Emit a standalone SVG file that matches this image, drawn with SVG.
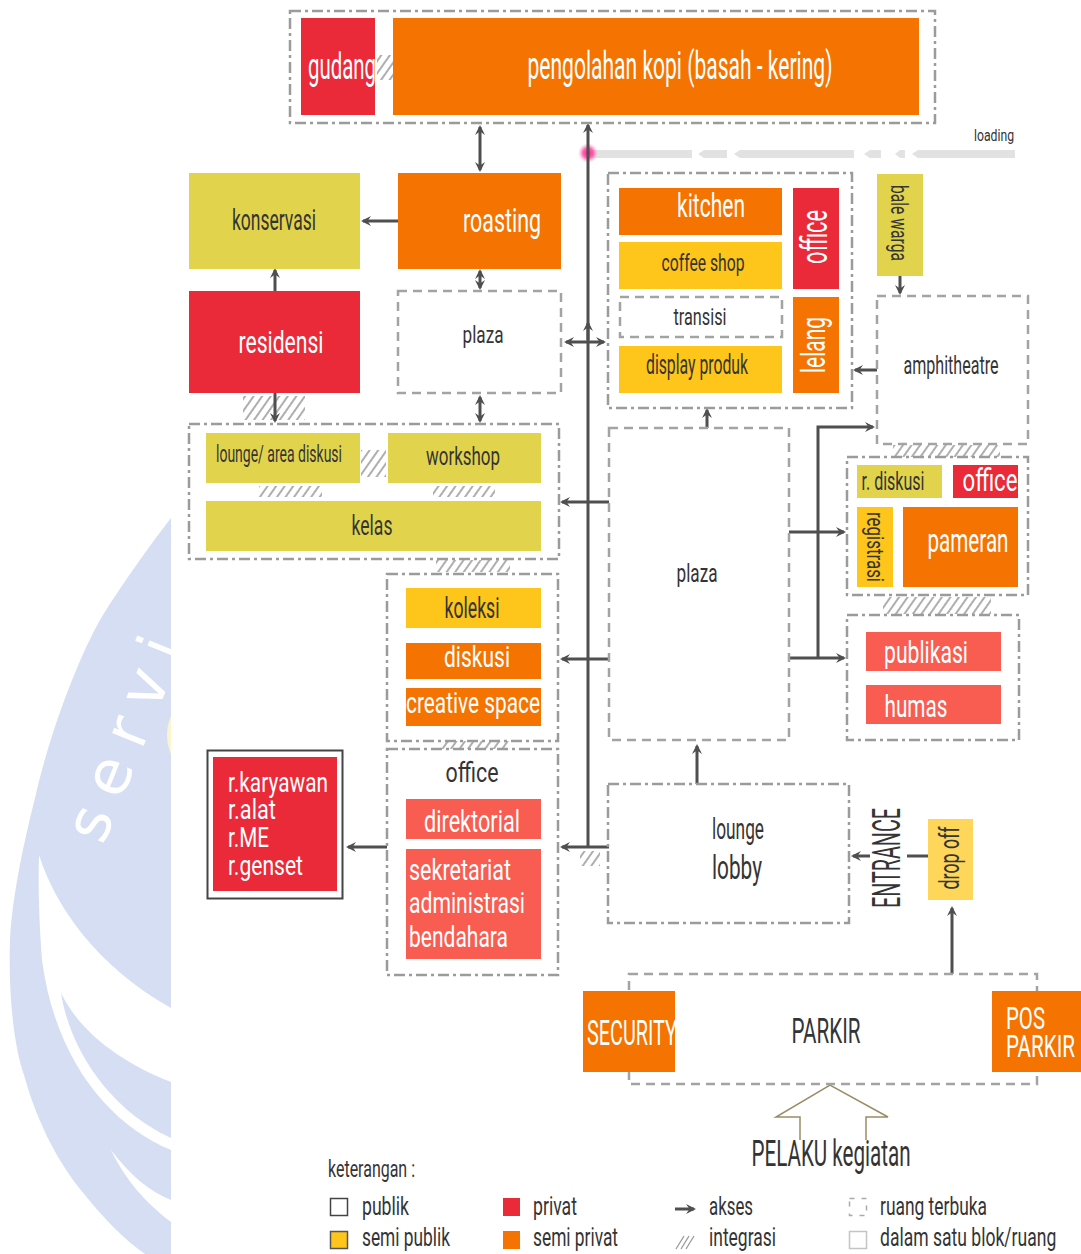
<svg xmlns="http://www.w3.org/2000/svg" width="1081" height="1254" viewBox="0 0 1081 1254">
<style>
.t{font-family:Roboto,"Liberation Sans",sans-serif;font-weight:400}
.m{text-anchor:middle}
.w{fill:#ffffff}
.d{fill:#343434}
.dd{fill:none;stroke:#9b9b9b;stroke-width:2.5;stroke-dasharray:11 4 3 4}
.ds{fill:none;stroke:#a3a3a3;stroke-width:2.5;stroke-dasharray:9 6}
.c{fill:none;stroke:#4f4f4f;stroke-width:3}
.red{fill:#ea2a39}.org{fill:#f57300}.oli{fill:#e1d44c}.yel{fill:#fec51b}.sal{fill:#f95c50}
.ht{fill:url(#hatch)}
</style>
<defs>
<marker id="ah" viewBox="0 0 10 10" refX="8" refY="5" markerWidth="10" markerHeight="10" markerUnits="userSpaceOnUse" orient="auto-start-reverse"><path d="M0,0 L10,5 L0,10 L3.5,5 Z" fill="#4f4f4f"/></marker>
<pattern id="hatch" width="7" height="7" patternUnits="userSpaceOnUse" patternTransform="rotate(35)"><line x1="1" y1="0" x2="1" y2="7" stroke="#8c8c8c" stroke-width="1.4"/></pattern>
<radialGradient id="glow"><stop offset="0" stop-color="#ff1a8c"/><stop offset="0.5" stop-color="#ff3b9a" stop-opacity="0.8"/><stop offset="1" stop-color="#ff8cc4" stop-opacity="0"/></radialGradient>
<clipPath id="wm"><rect x="0" y="0" width="171" height="1254"/></clipPath>
</defs>
<rect x="0" y="0" width="1081" height="1254" fill="#ffffff"/>

<g id="watermark" clip-path="url(#wm)">
<path d="M171,518 C150,545 118,590 100,620 C80,655 50,730 34,802 C22,850 12,900 10,940 C8,1000 15,1050 24,1075 C35,1115 55,1160 85,1195 C105,1220 125,1240 145,1254 L171,1254 Z" fill="#d5def2"/>
<path d="M39,855 C55,905 95,965 171,1008 L171,1082 C120,1062 80,1032 61,993 C70,1050 110,1110 171,1138 L171,1150 C110,1125 55,1060 42,960 C39,920 38,885 39,855 Z" fill="#ffffff"/>
<path d="M111,1150 C130,1175 150,1192 171,1200 L171,1222 C148,1205 125,1180 111,1150 Z" fill="#ffffff"/>
<ellipse cx="200" cy="735" rx="33" ry="40" fill="#fbf5cf"/>
<text class="w" transform="translate(103,846) rotate(-68)" font-family="'DejaVu Sans',sans-serif" font-size="62" letter-spacing="16">servi</text>
</g>

<g id="loading-road">
<rect x="592" y="150" width="100" height="8" fill="#e2e2e2"/>
<polygon points="698,154 704,150 727,150 727,158 704,158" fill="#e2e2e2"/>
<polygon points="734,154 740,150 854,150 854,158 740,158" fill="#e2e2e2"/>
<polygon points="864,154 870,150 881,150 881,158 870,158" fill="#e2e2e2"/>
<polygon points="895,154 900,150 905,150 905,158 900,158" fill="#e2e2e2"/>
<polygon points="912,154 918,150 1015,150 1015,158 918,158" fill="#e2e2e2"/>
<circle cx="588" cy="153" r="10" fill="url(#glow)"/>
<text class="t d" x="974" y="141" font-size="16" textLength="40" lengthAdjust="spacingAndGlyphs">loading</text>
</g>

<g id="hatches">
<rect class="ht" x="377" y="55" width="16" height="25"/>
<rect class="ht" x="243" y="396" width="62" height="24"/>
<rect class="ht" x="361" y="450" width="25" height="27"/>
<rect class="ht" x="259" y="486" width="63" height="11"/>
<rect class="ht" x="433" y="486" width="62" height="11"/>
<rect class="ht" x="436" y="560" width="74" height="12"/>
<rect class="ht" x="440" y="741" width="70" height="8"/>
<rect class="ht" x="580" y="851" width="20" height="15"/>
<rect class="ht" x="893" y="445" width="107" height="12"/>
<rect class="ht" x="883" y="597" width="108" height="17"/>
</g>

<g id="connectors">
<line class="c" x1="480" y1="127" x2="480" y2="170" marker-start="url(#ah)" marker-end="url(#ah)"/>
<line class="c" x1="588" y1="848" x2="588" y2="125" marker-end="url(#ah)"/>
<line class="c" x1="588" y1="340" x2="588" y2="323" marker-end="url(#ah)"/>
<line class="c" x1="398" y1="221" x2="363" y2="221" marker-end="url(#ah)"/>
<line class="c" x1="275" y1="291" x2="275" y2="270" marker-end="url(#ah)"/>
<line class="c" x1="480" y1="271" x2="480" y2="288" marker-start="url(#ah)" marker-end="url(#ah)"/>
<line class="c" x1="480" y1="397" x2="480" y2="421" marker-start="url(#ah)" marker-end="url(#ah)"/>
<line class="c" x1="275" y1="393" x2="275" y2="421" marker-end="url(#ah)"/>
<line class="c" x1="566" y1="342" x2="604" y2="342" marker-start="url(#ah)" marker-end="url(#ah)"/>
<line class="c" x1="609" y1="502" x2="562" y2="502" marker-end="url(#ah)"/>
<line class="c" x1="609" y1="659" x2="562" y2="659" marker-end="url(#ah)"/>
<line class="c" x1="609" y1="847" x2="562" y2="847" marker-end="url(#ah)"/>
<line class="c" x1="387" y1="847" x2="348" y2="847" marker-end="url(#ah)"/>
<line class="c" x1="707" y1="428" x2="707" y2="410" marker-end="url(#ah)"/>
<line class="c" x1="900" y1="276" x2="900" y2="293" marker-end="url(#ah)"/>
<line class="c" x1="877" y1="370" x2="855" y2="370" marker-end="url(#ah)"/>
<line class="c" x1="789" y1="532" x2="844" y2="532" marker-end="url(#ah)"/>
<line class="c" x1="789" y1="658" x2="844" y2="658" marker-end="url(#ah)"/>
<polyline class="c" points="818,658 818,427 873,427" marker-end="url(#ah)"/>
<line class="c" x1="697" y1="784" x2="697" y2="746" marker-end="url(#ah)"/>
<line class="c" x1="928" y1="856" x2="907" y2="856"/>
<line class="c" x1="870" y1="856" x2="853" y2="856" marker-end="url(#ah)"/>
<line class="c" x1="952" y1="974" x2="952" y2="908" marker-end="url(#ah)"/>
<polyline points="800,1140 800,1117 776,1117 830,1085 888,1117 866,1117 866,1140" fill="none" stroke="#9a8c66" stroke-width="1.5"/>
</g>

<g id="top-block"><rect class="dd" x="290" y="11" width="645" height="112"/></g>
<g id="gudang"><rect class="red" x="301" y="18" width="74" height="97"/><text class="t w m" x="342" y="79" font-size="36" textLength="68" lengthAdjust="spacingAndGlyphs">gudang</text></g>
<g id="pengolahan"><rect class="org" x="393" y="18" width="526" height="97"/><text class="t w m" x="680" y="79" font-size="38" textLength="305" lengthAdjust="spacingAndGlyphs">pengolahan kopi (basah - kering)</text></g>

<g id="konservasi"><rect class="oli" x="189" y="173" width="171" height="96"/><text class="t d m" x="274" y="230" font-size="30" textLength="84" lengthAdjust="spacingAndGlyphs">konservasi</text></g>
<g id="roasting"><rect class="org" x="398" y="173" width="163" height="96"/><text class="t w m" x="502" y="232" font-size="34" textLength="78" lengthAdjust="spacingAndGlyphs">roasting</text></g>
<g id="residensi"><rect class="red" x="189" y="291" width="171" height="102"/><text class="t w m" x="281" y="353" font-size="32" textLength="85" lengthAdjust="spacingAndGlyphs">residensi</text></g>
<g id="plaza-small"><rect class="ds" x="398" y="291" width="163" height="102"/><text class="t d m" x="483" y="343" font-size="24" textLength="41" lengthAdjust="spacingAndGlyphs">plaza</text></g>

<g id="lounge-group">
<rect class="dd" x="189" y="424" width="370" height="135"/>
<rect class="oli" x="206" y="433" width="154" height="50"/><text class="t d m" x="279" y="462" font-size="23" textLength="126" lengthAdjust="spacingAndGlyphs">lounge/ area diskusi</text>
<rect class="oli" x="388" y="433" width="153" height="50"/><text class="t d m" x="463" y="465" font-size="26" textLength="74" lengthAdjust="spacingAndGlyphs">workshop</text>
<rect class="oli" x="206" y="501" width="335" height="50"/><text class="t d m" x="372" y="535" font-size="28" textLength="41" lengthAdjust="spacingAndGlyphs">kelas</text>
</g>

<g id="koleksi-group">
<rect class="dd" x="387" y="574" width="171" height="167"/>
<rect class="yel" x="406" y="588" width="135" height="40"/><text class="t d m" x="472" y="618" font-size="30" textLength="55" lengthAdjust="spacingAndGlyphs">koleksi</text>
<rect class="org" x="406" y="643" width="135" height="36"/><text class="t w m" x="477" y="667" font-size="30" textLength="66" lengthAdjust="spacingAndGlyphs">diskusi</text>
<rect class="org" x="406" y="688" width="135" height="38"/><text class="t w m" x="473" y="713" font-size="30" textLength="134" lengthAdjust="spacingAndGlyphs">creative space</text>
</g>

<g id="office-group">
<rect class="dd" x="387" y="749" width="171" height="226"/>
<text class="t d m" x="472" y="782" font-size="28" textLength="53" lengthAdjust="spacingAndGlyphs">office</text>
<rect class="sal" x="406" y="799" width="135" height="40"/><text class="t w m" x="472" y="832" font-size="32" textLength="96" lengthAdjust="spacingAndGlyphs">direktorial</text>
<rect class="sal" x="406" y="849" width="135" height="110"/>
<text class="t w" x="409" y="880" font-size="30" textLength="102" lengthAdjust="spacingAndGlyphs">sekretariat</text>
<text class="t w" x="409" y="913" font-size="30" textLength="116" lengthAdjust="spacingAndGlyphs">administrasi</text>
<text class="t w" x="409" y="947" font-size="30" textLength="99" lengthAdjust="spacingAndGlyphs">bendahara</text>
</g>

<g id="service-rooms">
<rect x="207.5" y="750.5" width="135" height="148" fill="#ffffff" stroke="#444" stroke-width="2"/>
<rect class="red" x="213" y="757" width="124" height="134"/>
<text class="t w" x="228" y="792" font-size="27" textLength="100" lengthAdjust="spacingAndGlyphs">r.karyawan</text>
<text class="t w" x="228" y="819" font-size="27" textLength="48" lengthAdjust="spacingAndGlyphs">r.alat</text>
<text class="t w" x="228" y="847" font-size="27" textLength="41" lengthAdjust="spacingAndGlyphs">r.ME</text>
<text class="t w" x="228" y="875" font-size="27" textLength="75" lengthAdjust="spacingAndGlyphs">r.genset</text>
</g>

<g id="kitchen-group">
<rect class="dd" x="608" y="173" width="244" height="235"/>
<rect class="org" x="619" y="188" width="163" height="47"/><text class="t w m" x="711" y="217" font-size="34" textLength="68" lengthAdjust="spacingAndGlyphs">kitchen</text>
<rect class="yel" x="619" y="242" width="163" height="47"/><text class="t d m" x="703" y="271" font-size="23" textLength="83" lengthAdjust="spacingAndGlyphs">coffee shop</text>
<rect class="ds" x="620" y="297" width="162" height="40"/><text class="t d m" x="700" y="325" font-size="24" textLength="53" lengthAdjust="spacingAndGlyphs">transisi</text>
<rect class="yel" x="619" y="346" width="163" height="47"/><text class="t d m" x="697" y="374" font-size="27" textLength="102" lengthAdjust="spacingAndGlyphs">display produk</text>
<rect class="red" x="793" y="188" width="46" height="101"/><text class="t w m" transform="translate(816,237) rotate(-90)" x="0" y="11" font-size="36" textLength="54" lengthAdjust="spacingAndGlyphs">office</text>
<rect class="org" x="793" y="297" width="46" height="96"/><text class="t w m" transform="translate(816,345) rotate(-90)" x="0" y="9" font-size="33" textLength="56" lengthAdjust="spacingAndGlyphs">lelang</text>
</g>

<g id="bale-warga"><rect class="oli" x="877" y="174" width="46" height="102"/><text class="t d m" transform="translate(899,223) rotate(90)" x="0" y="8" font-size="24" textLength="76" lengthAdjust="spacingAndGlyphs">bale warga</text></g>
<g id="amphitheatre"><rect class="ds" x="877" y="296" width="151" height="148"/><text class="t d m" x="951" y="374" font-size="25" textLength="95" lengthAdjust="spacingAndGlyphs">amphitheatre</text></g>

<g id="plaza-big"><rect class="ds" x="609" y="428" width="180" height="312"/><text class="t d m" x="697" y="582" font-size="25" textLength="41" lengthAdjust="spacingAndGlyphs">plaza</text></g>

<g id="pameran-group">
<rect class="dd" x="847" y="457" width="181" height="138"/>
<rect class="oli" x="857" y="465" width="85" height="33"/><text class="t d m" x="893" y="490" font-size="25" textLength="63" lengthAdjust="spacingAndGlyphs">r. diskusi</text>
<rect class="red" x="953" y="465" width="65" height="33"/><text class="t w m" x="990" y="491" font-size="31" textLength="55" lengthAdjust="spacingAndGlyphs">office</text>
<rect class="yel" x="857" y="507" width="36" height="80"/><text class="t d m" transform="translate(875,547) rotate(90)" x="0" y="8" font-size="24" textLength="70" lengthAdjust="spacingAndGlyphs">registrasi</text>
<rect class="org" x="903" y="507" width="115" height="80"/><text class="t w m" x="968" y="552" font-size="33" textLength="81" lengthAdjust="spacingAndGlyphs">pameran</text>
</g>

<g id="publikasi-group">
<rect class="dd" x="847" y="615" width="172" height="125"/>
<rect class="sal" x="866" y="632" width="135" height="39"/><text class="t w m" x="926" y="663" font-size="32" textLength="84" lengthAdjust="spacingAndGlyphs">publikasi</text>
<rect class="sal" x="866" y="685" width="135" height="39"/><text class="t w m" x="916" y="717" font-size="32" textLength="63" lengthAdjust="spacingAndGlyphs">humas</text>
</g>

<g id="lobby"><rect class="dd" x="608" y="784" width="241" height="139"/>
<text class="t d m" x="738" y="839" font-size="29" textLength="52" lengthAdjust="spacingAndGlyphs">lounge</text>
<text class="t d m" x="737" y="879" font-size="34" textLength="50" lengthAdjust="spacingAndGlyphs">lobby</text></g>

<g id="entrance"><text class="t d m" transform="translate(887,858) rotate(-90)" x="0" y="13" font-size="38" textLength="100" lengthAdjust="spacingAndGlyphs">ENTRANCE</text></g>
<g id="drop-off"><rect x="928" y="819" width="45" height="81" fill="#fdd65a"/><text class="t d m" transform="translate(950,858) rotate(-90)" x="0" y="9" font-size="28" textLength="63" lengthAdjust="spacingAndGlyphs">drop off</text></g>

<g id="parkir"><rect class="ds" x="629" y="974" width="408" height="110"/><text class="t d m" x="826" y="1043" font-size="35" textLength="69" lengthAdjust="spacingAndGlyphs">PARKIR</text></g>
<g id="security"><rect class="org" x="583" y="991" width="92" height="81"/><text class="t w" x="587" y="1045" font-size="35" textLength="90" lengthAdjust="spacingAndGlyphs">SECURITY</text></g>
<g id="pos-parkir"><rect class="org" x="992" y="991" width="89" height="81"/>
<text class="t w" transform="translate(1006,1029) scale(0.6,1)" x="0" y="0" font-size="31" textLength="65" lengthAdjust="spacingAndGlyphs">POS</text>
<text class="t w" transform="translate(1006,1057) scale(0.6,1)" x="0" y="0" font-size="31" textLength="115" lengthAdjust="spacingAndGlyphs">PARKIR</text></g>

<g id="pelaku"><text class="t d m" x="831" y="1166" font-size="36" textLength="159" lengthAdjust="spacingAndGlyphs">PELAKU kegiatan</text></g>

<g id="legend">
<text class="t d" x="328" y="1177" font-size="23" textLength="87" lengthAdjust="spacingAndGlyphs">keterangan :</text>
<rect x="330.5" y="1198.5" width="17" height="17" fill="#fff" stroke="#444" stroke-width="1.5"/>
<text class="t d" x="362" y="1215" font-size="26" textLength="47" lengthAdjust="spacingAndGlyphs">publik</text>
<rect x="330.5" y="1231.5" width="17" height="17" fill="#fec51b" stroke="#555" stroke-width="1.5"/>
<text class="t d" x="362" y="1246" font-size="25" textLength="88" lengthAdjust="spacingAndGlyphs">semi publik</text>
<rect class="red" x="503" y="1198" width="17" height="18"/>
<text class="t d" x="533" y="1215" font-size="26" textLength="44" lengthAdjust="spacingAndGlyphs">privat</text>
<rect class="org" x="503" y="1231" width="17" height="18"/>
<text class="t d" x="533" y="1246" font-size="25" textLength="85" lengthAdjust="spacingAndGlyphs">semi privat</text>
<line class="c" x1="675" y1="1209" x2="694" y2="1209" marker-end="url(#ah)"/>
<text class="t d" x="709" y="1215" font-size="26" textLength="44" lengthAdjust="spacingAndGlyphs">akses</text>
<path d="M676,1249 L684,1236 M681,1249 L689,1236 M686,1249 L694,1236" stroke="#9a9a9a" stroke-width="1.3" fill="none"/>
<text class="t d" x="709" y="1246" font-size="25" textLength="67" lengthAdjust="spacingAndGlyphs">integrasi</text>
<rect x="849.5" y="1198.5" width="17" height="17" fill="none" stroke="#aaa" stroke-width="1.5" stroke-dasharray="5 7"/>
<text class="t d" x="880" y="1215" font-size="26" textLength="107" lengthAdjust="spacingAndGlyphs">ruang terbuka</text>
<rect x="849.5" y="1231.5" width="17" height="17" fill="none" stroke="#c4c4c4" stroke-width="1.5"/>
<text class="t d" transform="translate(880,1246) scale(0.75,1)" x="0" y="0" font-size="25" textLength="235" lengthAdjust="spacingAndGlyphs">dalam satu blok/ruang</text>
</g>
</svg>
